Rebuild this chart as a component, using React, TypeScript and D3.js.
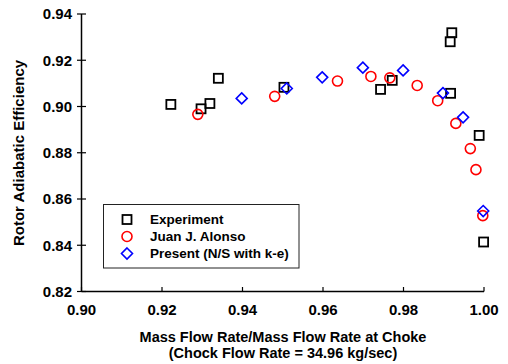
import React from "react";
import * as d3 from "d3";

// Mass flow ratio / efficiency pairs
const expX = [0.9222, 0.9297, 0.9319, 0.934, 0.9503, 0.9743, 0.9772, 0.9917, 0.992, 0.9916, 0.9988, 0.9999];
const expY = [0.9009, 0.899, 0.9013, 0.9122, 0.9083, 0.9074, 0.9113, 0.9057, 0.9319, 0.928, 0.8875, 0.8414];

const alonsoX = [0.9289, 0.948, 0.9636, 0.9719, 0.9766, 0.9834, 0.9885, 0.993, 0.9966, 0.998, 0.9997];
const alonsoY = [0.8966, 0.9044, 0.911, 0.913, 0.9124, 0.9091, 0.9025, 0.8927, 0.8818, 0.8727, 0.8528];

const presentX = [0.9398, 0.951, 0.9598, 0.9699, 0.9799, 0.9898, 0.9948, 0.9998];
const presentY = [0.9035, 0.9078, 0.9126, 0.9168, 0.9156, 0.9058, 0.8953, 0.8548];

const xTicks = [0.9, 0.92, 0.94, 0.96, 0.98, 1.0];
const yTicks = [0.82, 0.84, 0.86, 0.88, 0.9, 0.92, 0.94];

const legendLabels = ["Experiment", "Juan J. Alonso", "Present (N/S with k-e)"];

const font = "'Liberation Sans', Arial, sans-serif";

const Square = ({ x, y }: { x: number; y: number }) => (
    <rect x={x - 4.5} y={y - 4.5} width={9} height={9} fill="none" stroke="#000" strokeWidth={1.8} />
);
const Circle = ({ x, y }: { x: number; y: number }) => (
    <circle cx={x} cy={y} r={5} fill="none" stroke="#ff0000" strokeWidth={1.6} />
);
const Diamond = ({ x, y }: { x: number; y: number }) => (
    <path d={`M${x},${y - 5.5}L${x + 5.5},${y}L${x},${y + 5.5}L${x - 5.5},${y}Z`} fill="none" stroke="#0000ff" strokeWidth={1.6} />
);

const App = () => {
    const x = d3.scaleLinear().domain([0.9, 1.0]).range([81.5, 484]);
    const y = d3.scaleLinear().domain([0.82, 0.94]).range([291.5, 14]);
    const fmt = d3.format(".2f");

    const legendRows = [Square, Circle, Diamond];

    return (
        <svg width={508} height={364} style={{ position: "absolute", left: 0, top: 0 }} fontFamily={font} fontWeight="bold">
            <rect width={508} height={364} fill="#fff" />
            {/* axes */}
            <line x1={81.5} x2={81.5} y1={y(0.94)} y2={291.5} stroke="#000" strokeWidth={1.5} />
            <line x1={81.5} x2={484} y1={291.5} y2={291.5} stroke="#000" strokeWidth={1.5} />
            {yTicks.map(t => (
                <g key={t}>
                    <line x1={77} x2={86} y1={y(t)} y2={y(t)} stroke="#000" strokeWidth={1.2} />
                    <text x={72} y={y(t)} dy="0.35em" textAnchor="end" fontSize={15}>{fmt(t)}</text>
                </g>
            ))}
            {xTicks.map(t => (
                <g key={t}>
                    <line x1={x(t)} x2={x(t)} y1={287} y2={291.5} stroke="#000" strokeWidth={1.2} />
                    <text x={x(t)} y={315} textAnchor="middle" fontSize={15}>{fmt(t)}</text>
                </g>
            ))}
            <text x={283} y={342} textAnchor="middle" fontSize={14.5}>Mass Flow Rate/Mass Flow Rate at Choke</text>
            <text x={283} y={357.5} textAnchor="middle" fontSize={14.5}>(Chock Flow Rate = 34.96 kg/sec)</text>
            <text transform="translate(24,153) rotate(-90)" textAnchor="middle" fontSize={15}>Rotor Adiabatic Efficiency</text>

            {/* data */}
            {expX.map((v, i) => <Square key={"e" + i} x={x(v)} y={y(expY[i])} />)}
            {alonsoX.map((v, i) => <Circle key={"a" + i} x={x(v)} y={y(alonsoY[i])} />)}
            {presentX.map((v, i) => <Diamond key={"p" + i} x={x(v)} y={y(presentY[i])} />)}

            {/* legend */}
            <rect x={103.5} y={204.5} width={195.5} height={63.5} fill="#fff" stroke="#222" strokeWidth={1} />
            {legendLabels.map((l, i) => {
                const M = legendRows[i];
                const ly = 219.5 + i * 17;
                return (
                    <g key={l}>
                        <M x={127} y={ly} />
                        <text x={150} y={ly} dy="0.35em" fontSize={13.5}>{l}</text>
                    </g>
                );
            })}
        </svg>
    );
};

export default App;
